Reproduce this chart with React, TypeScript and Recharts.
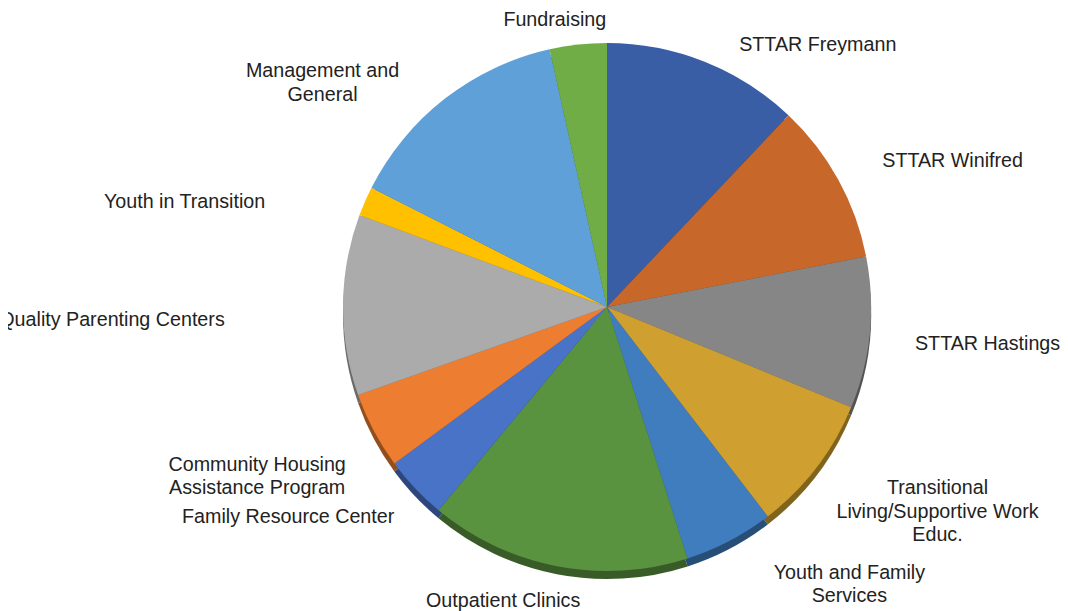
import React from "react";
import { PieChart, Pie, Cell } from "recharts";

const categories = [
  "STTAR Freymann",
  "STTAR Winifred",
  "STTAR Hastings",
  "Transitional Living/Supportive Work Educ.",
  "Youth and Family Services",
  "Outpatient Clinics",
  "Family Resource Center",
  "Community Housing Assistance Program",
  "Quality Parenting Centers",
  "Youth in Transition",
  "Management and General",
  "Fundraising",
];

const values = [12.1, 9.9, 9.3, 8.4, 5.5, 16.0, 3.9, 4.7, 11.1, 1.8, 14.1, 3.5];

const labelLines = [
  ["STTAR Freymann"],
  ["STTAR Winifred"],
  ["STTAR Hastings"],
  ["Transitional", "Living/Supportive Work", "Educ."],
  ["Youth and Family", "Services"],
  ["Outpatient Clinics"],
  ["Family Resource Center"],
  ["Community Housing", "Assistance Program"],
  ["Quality Parenting Centers"],
  ["Youth in Transition"],
  ["Management and", "General"],
  ["Fundraising"],
];

const colors = [
  "#3A5EA5",
  "#C8672A",
  "#868686",
  "#CF9F2F",
  "#3F7DBF",
  "#5A9340",
  "#4873C6",
  "#ED7D31",
  "#ABABAB",
  "#FFC000",
  "#60A0D8",
  "#70AD47",
];

// label nudges relative to a point just outside each slice
const labelNudges = [
  [102, 10],
  [88, -5],
  [88, 7],
  [97, 25],
  [106, 16],
  [-48, 4],
  [-105, 7],
  [-90, 31],
  [-201, 14],
  [-153, 12],
  [-104, 7],
  [-20, 4],
];

const data = categories.map((name, i) => ({ name, value: values[i] }));

function darken(hex: string, f: number) {
  const n = parseInt(hex.slice(1), 16);
  const r = Math.round(((n >> 16) & 255) * f);
  const g = Math.round(((n >> 8) & 255) * f);
  const b = Math.round((n & 255) * f);
  return `rgb(${r},${g},${b})`;
}

const RAD = Math.PI / 180;
const LINE_H = 23.5;

const renderLabel = (props: any) => {
  const { cx, cy, midAngle, outerRadius, index } = props;
  const r = outerRadius + 30;
  const bx = cx + r * Math.cos(-midAngle * RAD);
  const by = cy + r * Math.sin(-midAngle * RAD);
  const [dx, dy] = labelNudges[index];
  const x = bx + dx;
  const y = by + dy;
  const lines = labelLines[index];
  const n = lines.length;
  return (
    <text
      key={`lbl-${index}`}
      x={x}
      y={y}
      textAnchor="middle"
      fill="#222222"
      style={{ fontFamily: "'Liberation Sans', Arial, sans-serif", fontSize: 19.7 }}
    >
      {lines.map((ln, i) => (
        <tspan key={i} x={x} y={y + (i - (n - 1) / 2) * LINE_H} dominantBaseline="central">
          {ln}
        </tspan>
      ))}
    </text>
  );
};

export default function App() {
  const cx = 599;
  const cy = 299;
  const R = 264;
  return (
    <div style={{ width: 1060, height: 603 }}>
      <PieChart width={1060} height={603} margin={{ top: 0, right: 0, bottom: 0, left: 0 }}>
        <Pie
          data={data}
          dataKey="value"
          nameKey="name"
          cx={cx}
          cy={cy + 8}
          outerRadius={R}
          startAngle={90}
          endAngle={-270}
          stroke="none"
          isAnimationActive={false}
          label={false}
          labelLine={false}
        >
          {data.map((d, i) => (
            <Cell key={`rim-${i}`} fill={darken(colors[i], 0.62)} />
          ))}
        </Pie>
        <Pie
          data={data}
          dataKey="value"
          nameKey="name"
          cx={cx}
          cy={cy}
          outerRadius={R}
          startAngle={90}
          endAngle={-270}
          stroke="none"
          isAnimationActive={false}
          label={renderLabel}
          labelLine={false}
        >
          {data.map((d, i) => (
            <Cell key={`c-${i}`} fill={colors[i]} />
          ))}
        </Pie>
      </PieChart>
    </div>
  );
}
